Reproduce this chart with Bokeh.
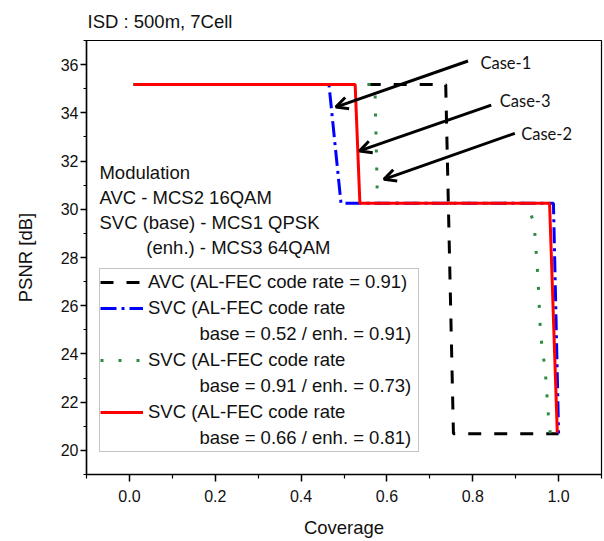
from bokeh.plotting import figure
from bokeh.models import (Range1d, FixedTicker, Legend, LegendItem, Arrow, OpenHead,
                          ColumnDataSource, NumeralTickFormatter)
from bokeh.core.properties import value
from bokeh.embed import file_html
from bokeh.resources import INLINE

# ---------------- data ----------------
avc_x = [0.01, 0.737, 0.755, 1.0]
avc_y = [35.17, 35.17, 20.69, 20.69]

svc_a_x = [0.01, 0.465, 0.493, 0.988, 1.0]          # base 0.52 / enh 0.91
svc_a_y = [35.17, 35.17, 30.25, 30.25, 20.7]

svc_b_x = [0.01, 0.572, 0.578, 0.925, 0.943, 0.952, 0.958, 0.969, 0.978, 0.981]   # base 0.91 / enh 0.73
svc_b_y = [35.17, 35.17, 30.25, 30.25, 29.44, 27.14, 24.81, 23.29, 21.0, 20.7]

svc_c_x = [0.01, 0.526, 0.537, 0.979, 0.997]        # base 0.66 / enh 0.81
svc_c_y = [35.17, 35.17, 30.25, 30.25, 20.73]

x_ticks = [0.0, 0.2, 0.4, 0.6, 0.8, 1.0]
x_minor = [-0.1, 0.1, 0.3, 0.5, 0.7, 0.9, 1.1]
y_ticks = [20, 22, 24, 26, 28, 30, 32, 34, 36]
y_minor = [19, 21, 23, 25, 27, 29, 31, 33, 35, 37]

title_text = "ISD : 500m, 7Cell"
x_label = "Coverage"
y_label = "PSNR [dB]"

legend_labels = ["AVC (AL-FEC code rate = 0.91)",
                 "SVC (AL-FEC code rate",
                 "base = 0.52 / enh. = 0.91)",
                 "SVC (AL-FEC code rate",
                 "base = 0.91 / enh. = 0.73)",
                 "SVC (AL-FEC code rate",
                 "base = 0.66 / enh. = 0.81)"]

mod_lines = ["Modulation", "AVC - MCS2 16QAM", "SVC (base) - MCS1 QPSK", "(enh.) - MCS3 64QAM"]
mod_x = [-0.0698, -0.0698, -0.0698, 0.0395]
mod_y = [31.52, 30.48, 29.44, 28.41]

case_labels = ["Case-1", "Case-3", "Case-2"]
case_x = [0.818, 0.863, 0.913]
case_y = [36.08, 34.49, 33.11]
arrow_x0 = [0.789, 0.843, 0.898]
arrow_y0 = [36.15, 34.32, 33.15]
arrow_x1 = [0.481, 0.536, 0.593]
arrow_y1 = [34.24, 32.42, 31.24]

# ---------------- figure ----------------
FONT = "Liberation Sans"
p = figure(width=604, height=541, x_range=Range1d(-0.1, 1.1), y_range=Range1d(19, 37),
           output_backend="svg", toolbar_location=None,
           min_border_left=86, min_border_right=3, min_border_top=40, min_border_bottom=67)

p.title.text = title_text
p.title.align = "left"
p.title.offset = 1
p.title.standoff = 17
p.title.text_font = FONT
p.title.text_font_size = "18.5px"
p.title.text_font_style = "normal"
p.title.text_color = "#111111"

p.xgrid.visible = False
p.ygrid.visible = False
p.outline_line_color = "black"
p.outline_line_width = 1.2
p.outline_line_alpha = 1

p.xaxis.ticker = FixedTicker(ticks=x_ticks, minor_ticks=x_minor)
p.yaxis.ticker = FixedTicker(ticks=y_ticks, minor_ticks=y_minor)
p.xaxis.formatter = NumeralTickFormatter(format="0.0")
p.xaxis.axis_label = x_label
p.yaxis.axis_label = y_label

for ax in (p.xaxis[0], p.yaxis[0]):
    ax.axis_line_width = 1.5
    ax.axis_line_color = "black"
    ax.major_tick_line_color = "black"
    ax.minor_tick_line_color = "black"
    ax.major_tick_line_width = 1.5
    ax.minor_tick_line_width = 1.2
    ax.major_tick_in = 0
    ax.minor_tick_in = 0
    ax.major_label_text_font = FONT
    ax.major_label_text_font_size = "16px"
    ax.major_label_text_color = "#111111"
    ax.axis_label_text_font = FONT
    ax.axis_label_text_font_size = "18.5px"
    ax.axis_label_text_font_style = "normal"
    ax.axis_label_text_color = "#111111"

p.xaxis.major_tick_out = 7
p.xaxis.minor_tick_out = 4
p.xaxis.major_label_standoff = 8
p.xaxis.axis_label_standoff = 12
p.yaxis.major_tick_out = 6
p.yaxis.minor_tick_out = 3
p.yaxis.major_label_standoff = 2
p.yaxis.axis_label_standoff = 22

# ---------------- series ----------------
r_avc = p.line(avc_x, avc_y, line_color="black", line_width=3, line_dash="13 13")
r_b = p.line(svc_b_x, svc_b_y, line_color="#2e8b3e", line_width=3, line_dash="3 15")
r_a = p.line(svc_a_x, svc_a_y, line_color="#0000ff", line_width=3, line_dash="16 5 3 5")
r_c = p.line(svc_c_x, svc_c_y, line_color="#ff0000", line_width=3)
r_blank = p.line(x=[], y=[], line_alpha=0)

# ---------------- annotations ----------------
p.text(x=mod_x, y=mod_y, text=mod_lines, text_font=value(FONT), text_font_size="18.5px",
       text_baseline="alphabetic", text_align="left", text_color="#111111")

p.text(x=case_x, y=case_y, text=case_labels, text_font=value("Lato"), text_font_size="16.5px",
       text_baseline="middle", text_align="left", text_color="#111111")

arrow_src = ColumnDataSource(dict(x0=arrow_x0, y0=arrow_y0, x1=arrow_x1, y1=arrow_y1))
p.add_layout(Arrow(source=arrow_src, x_start="x0", y_start="y0", x_end="x1", y_end="y1",
                   line_width=3, line_color="black",
                   end=OpenHead(size=12, line_width=3, line_color="black")))

# ---------------- legend ----------------
nb = "\u00a0" * 10
renderers = [r_avc, r_a, r_blank, r_b, r_blank, r_c, r_blank]
items = []
for i, (lab, r) in enumerate(zip(legend_labels, renderers)):
    text = lab if i in (0, 1, 3, 5) else nb + lab
    items.append(LegendItem(label=text, renderers=[r]))

legend = Legend(items=items, location=(13, 22), padding=0, margin=0, spacing=0,
                glyph_width=43, glyph_height=26, label_height=26, label_width=270,
                label_standoff=5, label_text_font=FONT, label_text_font_size="18.5px",
                label_text_color="#111111", label_text_baseline="middle",
                border_line_color="#8a8a8a", border_line_width=1.2,
                background_fill_color="white", background_fill_alpha=1)
p.add_layout(legend, "center")

open("out.html", "w").write(file_html(p, INLINE))
